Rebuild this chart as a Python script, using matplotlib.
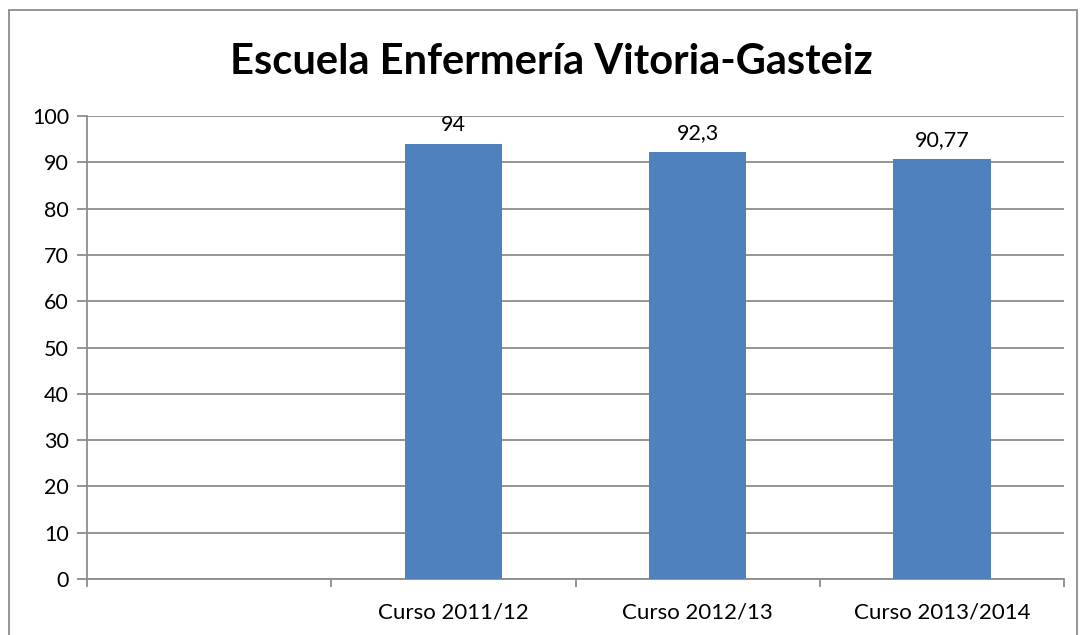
import numpy as np
import matplotlib.pyplot as plt
from matplotlib.patches import Rectangle

#-------------------------------------------------------------------------------------------------

categories = ["", "Curso 2011/12", "Curso 2012/13", "Curso 2013/2014"]
values = [np.nan, 94, 92.3, 90.77]
valueLabels = ["", "94", "92,3", "90,77"]
yTicks = [0, 10, 20, 30, 40, 50, 60, 70, 80, 90, 100]

barColor = "#4F81BD"
gridColor = "#8C8C8C"
fontName = "Lato"

#-------------------------------------------------------------------------------------------------

fig = plt.figure(figsize=(10.8, 6.35), dpi=100)
ax = fig.add_axes([87/1080, 1 - 579/635, (1064 - 87)/1080, (579 - 116)/635])

x = np.arange(len(categories))
ax.bar(x, values, width=0.40, color=barColor, zorder=3)

for i in range(len(categories)):
	if valueLabels[i]:
		ax.annotate(valueLabels[i], (x[i], values[i]), xytext=(0, 6), textcoords="offset points",
			ha="center", va="bottom", fontsize=15.5, family=fontName)

ax.set_xlim(-0.5, len(categories) - 0.5)
ax.set_ylim(0, 100)
ax.set_yticks(yTicks)
ax.set_yticklabels([str(t) for t in yTicks], fontsize=15.5, family=fontName)
ax.set_xticks(x)
ax.set_xticklabels(categories, fontsize=16, family=fontName)
ax.set_xticks(np.arange(len(categories) + 1) - 0.5, minor=True)
ax.tick_params(axis="x", which="major", length=0, pad=17)
ax.tick_params(axis="x", which="minor", length=6, color=gridColor, width=1.3)
ax.tick_params(axis="y", length=7, color=gridColor, width=1.3, pad=6)

ax.yaxis.grid(True, color=gridColor, linewidth=1.3, zorder=0)
for s in ["top", "right"]:
	ax.spines[s].set_visible(False)
for s in ["left", "bottom"]:
	ax.spines[s].set_color(gridColor)
	ax.spines[s].set_linewidth(1.3)

fig.text(551/1080, 1 - 62/635, "Escuela Enfermería Vitoria-Gasteiz", ha="center", va="center",
	fontsize=30, fontweight="bold", family=fontName)

fig.patches.append(Rectangle((9/1080, -0.01), (1077 - 9)/1080, 1 - 10/635 + 0.01,
	transform=fig.transFigure, fill=False, edgecolor="#8C8C8C", linewidth=1.3))

plt.savefig("out.png", dpi=100)
